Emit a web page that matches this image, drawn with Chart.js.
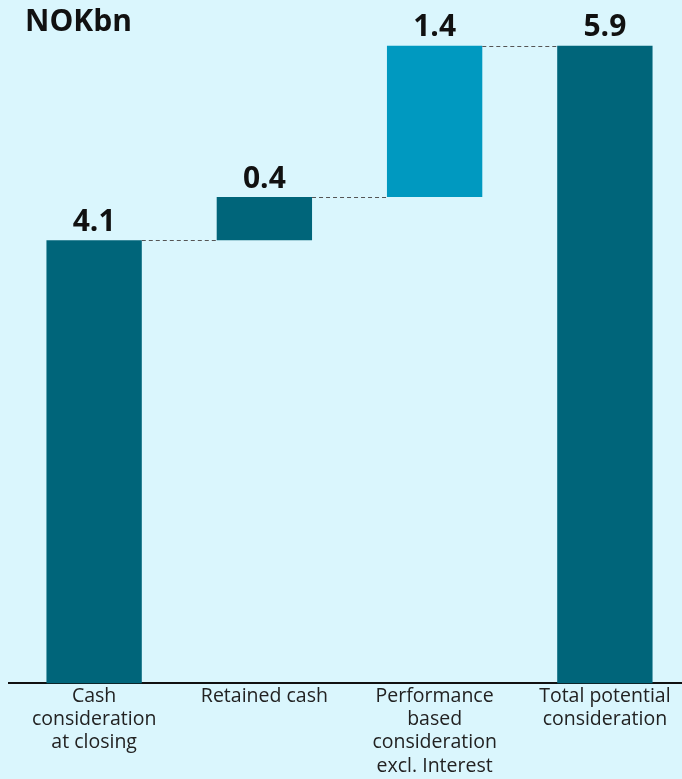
<!DOCTYPE html>
<html>
<head>
<meta charset="utf-8">
<script src="https://cdn.jsdelivr.net/npm/chart.js@4.4.1/dist/chart.umd.min.js"></script>
<style>
  html, body { margin: 0; padding: 0; background: #daf6fd; overflow: hidden; }
  canvas { display: block; }
</style>
</head>
<body>
<canvas id="waterfall" width="690" height="779"></canvas>
<script>
// Waterfall: cash at closing + retained + performance based = total
const categories = [
    ["Cash", "consideration", "at closing"],
    ["Retained cash"],
    ["Performance", "based", "consideration", "excl. Interest"],
    ["Total potential", "consideration"]
];
const values = [4.1, 0.4, 1.4, 5.9];
const isTotal = [true, false, false, true];
const barColors = ["#00657a", "#00657a", "#0099c0", "#00657a"];
const unitLabel = "NOKbn";

// Build floating ranges [start, end] for each step
let running = 0;
const ranges = values.map((v, i) => {
    if (isTotal[i]) {
        running = v;
        return [0, v];
    }
    const r = [running, running + v];
    running += v;
    return r;
});

// Value labels above bars + dashed connectors between them
const waterfallExtras = {
    id: "waterfallExtras",
    afterDatasetsDraw(chart) {
        const ctx = chart.ctx;
        const meta = chart.getDatasetMeta(0);
        const y = chart.scales.y;
        ctx.save();
        // connectors
        ctx.strokeStyle = "#555";
        ctx.lineWidth = 1;
        ctx.setLineDash([4, 3]);
        for (let i = 0; i < meta.data.length - 1; i++) {
            const a = meta.data[i], b = meta.data[i + 1];
            const level = Math.round(y.getPixelForValue(ranges[i][1])) + 0.5;
            ctx.beginPath();
            ctx.moveTo(a.x + a.width / 2, level);
            ctx.lineTo(b.x - b.width / 2, level);
            ctx.stroke();
        }
        ctx.setLineDash([]);
        // labels
        ctx.fillStyle = "#111";
        ctx.font = "bold 30px 'Open Sans', sans-serif";
        ctx.textAlign = "center";
        ctx.textBaseline = "bottom";
        meta.data.forEach((bar, i) => {
            const top = y.getPixelForValue(ranges[i][1]);
            ctx.fillText(values[i].toFixed(1), bar.x, top - 3);
        });
        // unit title
        ctx.textAlign = "left";
        ctx.textBaseline = "middle";
        ctx.fillText(unitLabel, 25, 22);
        ctx.restore();
    }
};

const ctx = document.getElementById("waterfall").getContext("2d");
const chart = new Chart(ctx, {
    type: "bar",
    data: {
        labels: categories,
        datasets: [{
            data: ranges,
            backgroundColor: barColors,
            borderWidth: 0,
            barPercentage: 0.56,
            categoryPercentage: 1.0
        }]
    },
    options: {
        responsive: false,
        animation: false,
        layout: { padding: { left: 9, right: 0, top: 35, bottom: 0 } },
        plugins: {
            legend: { display: false },
            tooltip: { enabled: false }
        },
        scales: {
            x: {
                grid: { display: false, drawTicks: false },
                border: { display: true, color: "#111", width: 2 },
                ticks: {
                    color: "#222",
                    font: { family: "'Open Sans', sans-serif", size: 19.5, lineHeight: 1.2 },
                    padding: 1,
                    maxRotation: 0,
                    autoSkip: false
                }
            },
            y: {
                display: false,
                min: 0,
                max: 6
            }
        }
    },
    plugins: [waterfallExtras]
});
</script>
</body>
</html>
